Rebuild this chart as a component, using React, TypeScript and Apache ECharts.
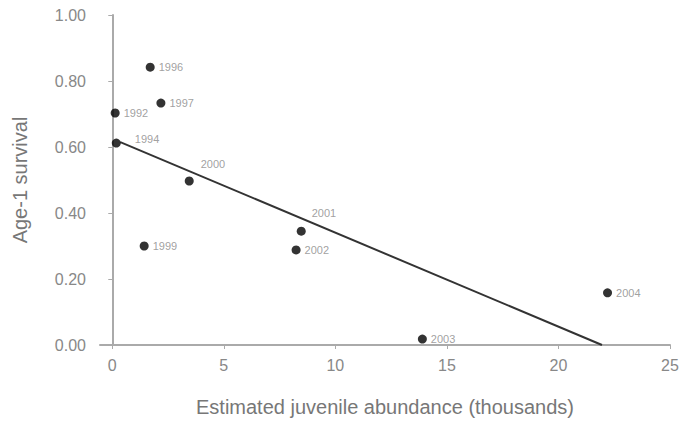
import React, { useEffect, useRef } from "react";
import * as echarts from "echarts";

const years = ["1992", "1994", "1996", "1997", "1999", "2000", "2001", "2002", "2003", "2004"];
const abundance = [0.13, 0.18, 1.7, 2.18, 1.43, 3.45, 8.47, 8.24, 13.9, 22.2];
const survival = [0.703, 0.612, 0.842, 0.733, 0.3, 0.497, 0.345, 0.288, 0.018, 0.158];

const trendX = [0.36, 21.95];
const trendY = [0.615, 0.0];

const xTicks = [0, 5, 10, 15, 20, 25];
const yTicks = [0, 0.2, 0.4, 0.6, 0.8, 1.0];

const labelOffsets: Record<string, [number, number]> = {
  "1994": [10, -4],
  "2000": [3, -17],
  "2001": [2, -18],
};

const FONT = "'Liberation Sans', Arial, sans-serif";

export default function App() {
  const ref = useRef<HTMLDivElement>(null);
  useEffect(() => {
    if (!ref.current) return;
    const chart = echarts.init(ref.current, null, { renderer: "svg" });
    const points = years.map((y, i) => ({
      value: [abundance[i], survival[i]],
      name: y,
      label: { offset: labelOffsets[y] || [0, 0] },
    }));
    chart.setOption({
      animation: false,
      backgroundColor: "#ffffff",
      grid: { left: 100, right: 12, top: 15, bottom: 76, outerBoundsMode: "none", containLabel: false },
      xAxis: {
        type: "value",
        min: -0.55,
        max: 25,
        name: "Estimated juvenile abundance (thousands)",
        nameLocation: "middle",
        nameGap: 52,
        nameTextStyle: { fontFamily: FONT, fontSize: 20, color: "#777" },
        axisLine: { show: true, lineStyle: { color: "#aaa", width: 2 } },
        axisTick: { show: true, customValues: xTicks, length: 4, lineStyle: { color: "#aaa" } },
        axisLabel: {
          customValues: xTicks,
          fontFamily: FONT,
          fontSize: 16,
          color: "#888",
          margin: 12,
        },
        splitLine: { show: false },
      },
      yAxis: {
        type: "value",
        min: 0,
        max: 1,
        interval: 0.2,
        name: "Age-1 survival",
        nameLocation: "middle",
        nameGap: 70,
        nameTextStyle: { fontFamily: FONT, fontSize: 20, color: "#777" },
        axisLine: { show: true, lineStyle: { color: "#aaa", width: 2 } },
        axisTick: { show: true, length: 4, lineStyle: { color: "#aaa" } },
        axisLabel: {
          customValues: yTicks,
          formatter: (v: number) => v.toFixed(2),
          fontFamily: FONT,
          fontSize: 16,
          color: "#888",
          margin: 14,
        },
        splitLine: { show: false },
      },
      series: [
        {
          type: "line",
          data: trendX.map((x, i) => [x, trendY[i]]),
          showSymbol: false,
          symbol: "none",
          lineStyle: { color: "#333", width: 2 },
          z: 2,
        },
        {
          type: "scatter",
          data: points,
          symbol: "circle",
          symbolSize: 9,
          itemStyle: { color: "#000" },
          label: {
            show: true,
            position: "right",
            distance: 4,
            formatter: (p: any) => p.name,
            fontFamily: FONT,
            fontSize: 11,
            color: "#888",
          },
          z: 3,
        },
      ],
    });
    return () => chart.dispose();
  }, []);
  return (
    <div
      ref={ref}
      style={{ position: "absolute", left: 0, top: 0, width: 682, height: 421 }}
    />
  );
}
